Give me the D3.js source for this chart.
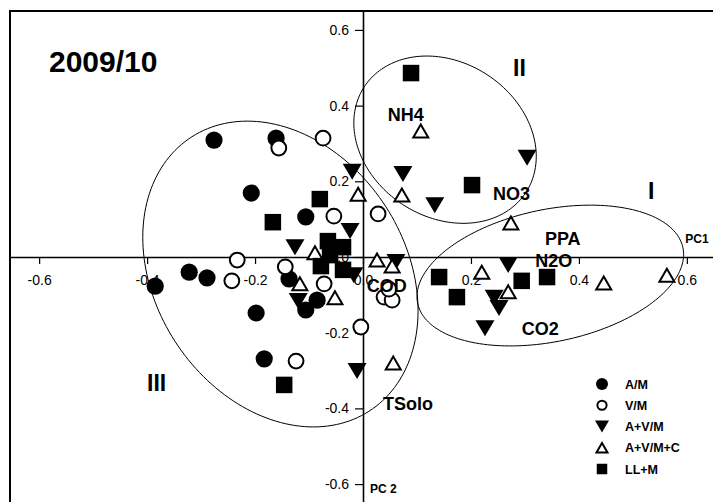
<!DOCTYPE html>
<html>
<head>
<meta charset="utf-8">
<script src="https://cdn.jsdelivr.net/npm/d3@7"></script>
<style>
  html, body { margin: 0; padding: 0; background: #fff; }
  svg { display: block; font-family: "Liberation Sans", Arial, Helvetica, sans-serif; }
</style>
</head>
<body>
<svg id="chart" width="713" height="502"></svg>
<script>
// ---- PCA scores (PC1, PC2) by treatment ----
const groupNames = ["A/M", "V/M", "A+V/M", "A+V/M+C", "LL+M"];

const pc1_AM   = [-0.276, -0.161, -0.207, -0.106, -0.385, -0.322, -0.289, -0.198, -0.183, -0.137, -0.085, -0.106];
const pc2_AM   = [ 0.309,  0.314,  0.169,  0.106, -0.077, -0.040, -0.055, -0.148, -0.269, -0.058, -0.114, -0.140];

const pc1_VM   = [-0.074, -0.156, -0.054,  0.028, -0.233, -0.243, -0.144, -0.072, -0.124, -0.004,  0.039,  0.054,  0.048];
const pc2_VM   = [ 0.314,  0.288,  0.108,  0.114, -0.008, -0.063, -0.026, -0.071, -0.275, -0.185, -0.106, -0.114, -0.085];

const pc1_AVM  = [-0.020,  0.074,  0.133,  0.304, -0.024, -0.126, -0.017,  0.061,  0.269,  0.243,  0.252,  0.226, -0.011, -0.120];
const pc2_AVM  = [ 0.225,  0.219,  0.137,  0.262,  0.069,  0.026, -0.048, -0.013, -0.021, -0.108, -0.135, -0.188, -0.301, -0.116];

const pc1_AVMC = [ 0.107,  0.072, -0.009,  0.274,  0.026,  0.054,  0.220,  0.269,  0.446,  0.563,  0.056, -0.052, -0.117, -0.089];
const pc2_AVMC = [ 0.333,  0.164,  0.166,  0.090, -0.008, -0.024, -0.040, -0.092, -0.069, -0.048, -0.280, -0.108, -0.071,  0.011];

const pc1_LLM  = [ 0.089,  0.202, -0.080, -0.167, -0.065, -0.037, -0.061, -0.078, -0.037,  0.141,  0.174,  0.294,  0.341, -0.146];
const pc2_LLM  = [ 0.486,  0.190,  0.153,  0.092,  0.042,  0.026,  0.005, -0.024, -0.034, -0.053, -0.106, -0.063, -0.053, -0.338];

// ---- Environmental variables shown on the biplot ----
const varNames = ["NH4", "NO3", "PPA", "N2O", "CO2", "COD", "TSolo"];
const varPC1   = [0.046, 0.241, 0.337, 0.319, 0.294, 0.007, 0.037];
const varPC2   = [0.359, 0.151, 0.032, -0.026, -0.206, -0.092, -0.404];

// ---- Cluster ellipses: centre, half-extent on each axis, correlation ----
const clusterNames = ["I", "II", "III"];
const clusterCx = [0.347, 0.152, -0.153];
const clusterCy = [-0.049, 0.310, -0.045];
const clusterSx = [0.247, 0.169, 0.255];
const clusterSy = [0.186, 0.221, 0.404];
const clusterR  = [0.30, -0.20, -0.24];
const clusterLabelX = [0.528, 0.278, -0.400];
const clusterLabelY = [0.153, 0.478, -0.354];

// ---- Axis ticks ----
const tickValues = [-0.6, -0.4, -0.2, 0.0, 0.2, 0.4, 0.6];
const tickLabels = ["-0.6", "-0.4", "-0.2", "0.0", "0.2", "0.4", "0.6"];

const title = "2009/10";

// ------------------------------------------------------------------
const svg = d3.select("#chart");

const x = d3.scaleLinear().domain([-0.654, 0.654]).range([10, 716]);
const y = d3.scaleLinear().domain([-0.65, 0.65]).range([503, 11]);

// plot frame
svg.append("rect")
  .attr("x", x.range()[0]).attr("y", y.range()[1])
  .attr("width", x.range()[1] - x.range()[0])
  .attr("height", y.range()[0] - y.range()[1])
  .attr("fill", "none").attr("stroke", "#000").attr("stroke-width", 2);

// axes through the origin
const fmt = v => tickLabels[tickValues.indexOf(v)];

const xAxis = svg.append("g")
  .attr("transform", `translate(0,${y(0)})`)
  .call(d3.axisBottom(x).tickValues(tickValues).tickFormat(fmt)
        .tickSize(7).tickSizeOuter(0).tickPadding(11));

const yAxis = svg.append("g")
  .attr("transform", `translate(${x(0)},0)`)
  .call(d3.axisLeft(y).tickValues(tickValues).tickFormat(fmt)
        .tickSize(8).tickSizeOuter(0).tickPadding(6));

[xAxis, yAxis].forEach(g => {
  g.select(".domain").attr("stroke", "#000").attr("stroke-width", 1.6);
  g.selectAll(".tick line").attr("stroke", "#000").attr("stroke-width", 1.2);
  g.selectAll(".tick text")
    .attr("fill", "#000")
    .style("font-family", "'Liberation Sans', Arial, sans-serif")
    .style("font-size", "14px");
});

// axis names
svg.append("text").attr("x", x(0.597)).attr("y", y(0.037))
  .attr("font-size", 12).attr("font-weight", "bold").text("PC1");
svg.append("text").attr("x", x(0.013)).attr("y", y(-0.6237))
  .attr("font-size", 12).attr("font-weight", "bold").text("PC 2");

// cluster ellipses
const steps = d3.range(0, 181).map(i => i / 180 * 2 * Math.PI);
const line = d3.line().curve(d3.curveLinearClosed);
clusterNames.forEach((name, i) => {
  const r = clusterR[i], k = Math.sqrt(1 - r * r);
  const pts = steps.map(t => [
    x(clusterCx[i] + clusterSx[i] * Math.cos(t)),
    y(clusterCy[i] + clusterSy[i] * (r * Math.cos(t) + k * Math.sin(t)))
  ]);
  svg.append("path").attr("d", line(pts))
    .attr("fill", "none").attr("stroke", "#000").attr("stroke-width", 1);
});

// marker drawing
function drawMarker(g, type, cx, cy, s) {
  if (type === "fcircle") {
    g.append("circle").attr("cx", cx).attr("cy", cy).attr("r", s.r)
      .attr("fill", "#000");
  } else if (type === "ocircle") {
    g.append("circle").attr("cx", cx).attr("cy", cy).attr("r", s.ro)
      .attr("fill", "#fff").attr("stroke", "#000").attr("stroke-width", s.sw);
  } else if (type === "ftri") {
    const w = s.tw / 2, h = s.th / 2;
    g.append("path")
      .attr("d", `M${cx - w},${cy - h}L${cx + w},${cy - h}L${cx},${cy + h}Z`)
      .attr("fill", "#000");
  } else if (type === "otri") {
    const w = s.ow / 2, h = s.oh / 2;
    g.append("path")
      .attr("d", `M${cx - w},${cy + h}L${cx + w},${cy + h}L${cx},${cy - h}Z`)
      .attr("fill", "#fff").attr("stroke", "#000").attr("stroke-width", s.sw)
      .attr("stroke-linejoin", "miter");
  } else if (type === "square") {
    g.append("rect").attr("x", cx - s.sq / 2).attr("y", cy - s.sq / 2)
      .attr("width", s.sq).attr("height", s.sq).attr("fill", "#000");
  }
}

const groupTypes = ["fcircle", "ocircle", "ftri", "otri", "square"];
const groupPC1 = [pc1_AM, pc1_VM, pc1_AVM, pc1_AVMC, pc1_LLM];
const groupPC2 = [pc2_AM, pc2_VM, pc2_AVM, pc2_AVMC, pc2_LLM];

const plotSize   = { r: 8.6, ro: 7.4, sw: 2, tw: 19, th: 16, ow: 15, oh: 13, sq: 16.5 };
const legendSize = { r: 6, ro: 4.6, sw: 2, tw: 14, th: 12, ow: 11, oh: 9.5, sq: 10.5 };

const marks = svg.append("g");
groupNames.forEach((name, gi) => {
  groupPC1[gi].forEach((v, j) => {
    drawMarker(marks, groupTypes[gi], x(v), y(groupPC2[gi][j]), plotSize);
  });
});

// variable labels
svg.append("g").selectAll("text").data(varNames).join("text")
  .attr("x", (d, i) => x(varPC1[i]))
  .attr("y", (d, i) => y(varPC2[i]))
  .attr("font-size", 18).attr("font-weight", "bold").attr("fill", "#000")
  .text(d => d);

// cluster labels
svg.append("g").selectAll("text").data(clusterNames).join("text")
  .attr("x", (d, i) => x(clusterLabelX[i]))
  .attr("y", (d, i) => y(clusterLabelY[i]))
  .attr("font-size", 23).attr("font-weight", "bold").attr("fill", "#000")
  .text(d => d);

// title
svg.append("text").attr("x", 49).attr("y", 72)
  .attr("font-size", 30).attr("font-weight", "bold").text(title);

// legend
const legend = svg.append("g").attr("transform", "translate(602,384)");
groupNames.forEach((name, i) => {
  const ry = i * 21.25;
  drawMarker(legend, groupTypes[i], 0, ry, legendSize);
  legend.append("text").attr("x", 23).attr("y", ry).attr("dy", "0.36em")
    .attr("font-size", 12.5).attr("font-weight", "bold").text(name);
});
</script>
</body>
</html>
